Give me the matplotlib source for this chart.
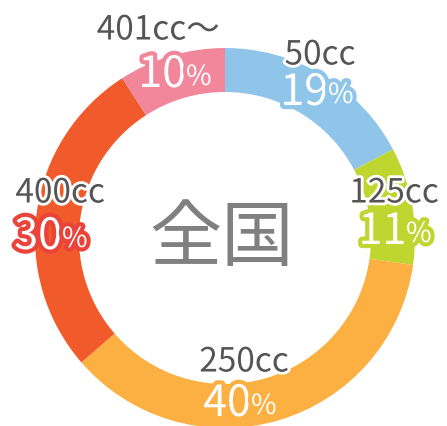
import matplotlib.pyplot as plt
import matplotlib.patheffects as pe

plt.rcParams['font.family'] = ['Noto Sans CJK JP', 'DejaVu Sans']

categories = ["50cc", "125cc", "250cc", "400cc", "401cc〜"]
shares = [19, 11, 40, 30, 10]
colors = ["#90c5ea", "#bfd631", "#fbb041", "#f15a2a", "#f2879b"]
stroke_colors = ["#90c5ea", "#bfd631", "#fbb041", "#ea443a", "#f2879b"]
center_label = "全国"

# label anchors in pixel coords (x, y from top): name, percent
name_pos = [(320, 55), (394, 193), (244, 362), (60, 193), (158, 30)]
pct_pos = [(318, 93), (396, 232), (241, 404), (52, 237), (176, 75)]

W, H = 447, 426
fig = plt.figure(figsize=(W / 100, H / 100), dpi=100)
ax = fig.add_axes([0, 0, 1, 1])

ax.pie(shares, colors=colors, startangle=90, counterclock=False,
       center=(225, H - 238), radius=190,
       wedgeprops=dict(width=44, linewidth=0))
ax.set_xlim(0, W)
ax.set_ylim(0, H)
ax.set_aspect('equal')
ax.axis('off')

for name, pct, sc, (nx, ny), (px, py) in zip(categories, shares, stroke_colors,
                                              name_pos, pct_pos):
    ax.text(nx, H - ny, name, ha="center", va="center", fontsize=24,
            color="#555555",
            path_effects=[pe.withStroke(linewidth=4, foreground="white")])
    ax.text(px + 10, H - py, str(pct), ha="right", va="center", fontsize=31,
            color="white",
            path_effects=[pe.withStroke(linewidth=6, foreground=sc)])
    ax.text(px + 10, H - py - 2, "%", ha="left", va="center", fontsize=20,
            color="white",
            path_effects=[pe.withStroke(linewidth=6, foreground=sc)])

ax.text(222, H - 240, center_label, ha="center", va="center", fontsize=52,
        color="#808080")

fig.savefig("out.png", dpi=100)
